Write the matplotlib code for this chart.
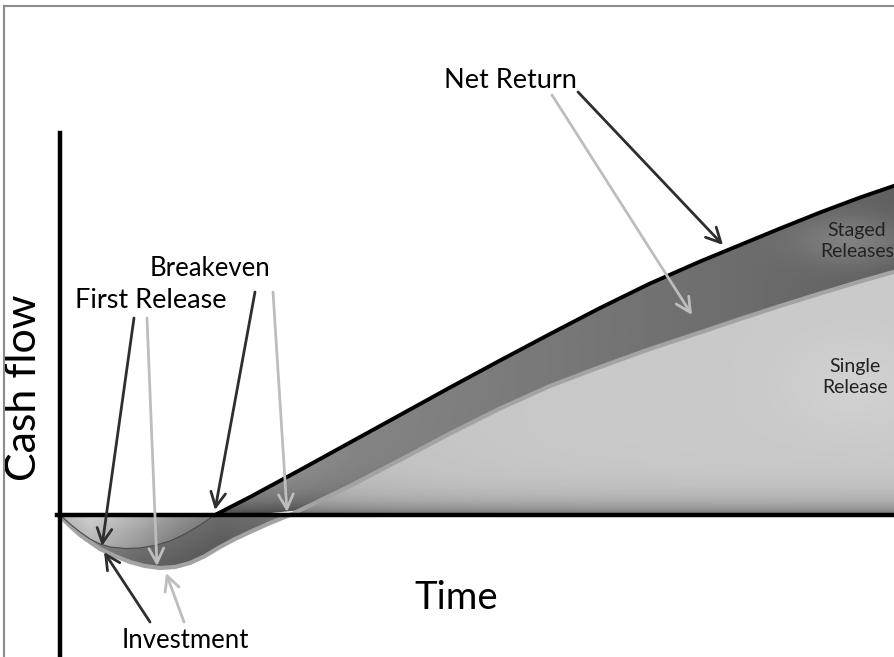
import numpy as np
import matplotlib
matplotlib.use("Agg")
import matplotlib.pyplot as plt
from matplotlib.patches import Polygon
from matplotlib.lines import Line2D

plt.rcParams['font.family'] = ['Lato', 'DejaVu Sans']

# cash flow over time (arbitrary units)
staged_t = [0, 1, 2, 3, 4, 5, 6.5, 8, 9.5, 11, 12.5, 14, 15.5, 19, 24, 29, 34, 39,
            44, 49, 54, 59, 64, 68, 72, 76, 80, 83.5]
staged_cf = [0, -0.9, -1.7, -2.4, -2.9, -3.2, -3.35, -3.3, -3.05, -2.6, -1.9, -1.0, 0,
             1.8, 4.5, 7.25, 10.0, 12.75, 15.45, 18.1, 20.7, 23.15, 25.35, 27.0,
             28.65, 30.25, 31.75, 32.95]

single_t = [0, 1, 2, 3, 4, 5.5, 7, 8.5, 10, 11.5, 13, 14.5, 16, 17.5, 19, 21, 23, 29,
            34, 39, 44, 49, 54, 59, 64, 68, 72, 76, 80, 83.5]
single_cf = [-0.1, -1.1, -2.0, -2.7, -3.4, -4.1, -4.7, -5.1, -5.3, -5.2, -4.8, -4.1,
             -3.2, -2.4, -1.7, -0.8, 0, 2.9, 5.5, 8.15, 10.65, 12.9, 14.8, 16.6,
             18.25, 19.6, 20.9, 22.15, 23.35, 24.35]

XMIN, XMAX, YMIN, YMAX = -6, 83.5, -14.2, 51.5

fig = plt.figure(figsize=(8.95, 6.57), dpi=100)
ax = fig.add_axes([0, 0, 1, 1])
ax.set_axis_off()

st = np.array(staged_t)
sc = np.array(staged_cf)
gt = np.array(single_t)
gc = np.array(single_cf)

gx = np.linspace(XMIN, XMAX, 500)
gy = np.linspace(YMIN, YMAX, 400)
X, Y = np.meshgrid(gx, gy)


def shade(xs, ys, img):
    patch = Polygon(np.column_stack([xs, ys]), closed=True, facecolor='none',
                    edgecolor='none')
    ax.add_patch(patch)
    im = ax.imshow(img, extent=(XMIN, XMAX, YMIN, YMAX), origin='lower',
                   cmap='gray', vmin=0, vmax=1, aspect='auto',
                   interpolation='bilinear', zorder=1)
    im.set_clip_path(patch)


# single release, positive part
pos = gc >= 0
sx = np.concatenate([gt[pos], [gt[-1], gt[pos][0]]])
sy = np.concatenate([gc[pos], [0, 0]])
img = 0.79 - 0.32 * np.exp(-np.clip(Y, 0, None) / 1.3)
img = img - 0.06 * np.exp(-np.clip(X - 23, 0, None) / 12)
img = img + 0.03 * np.exp(-((X - 79.5) ** 2 / 40 + (Y - 13) ** 2 / 20))
shade(sx, sy, img)

# staged band between the two curves
mask = st >= 15.5
top_x = st[mask]
top_y = sc[mask]
low = np.interp(top_x, gt, np.clip(gc, 0, None))
bx = np.concatenate([top_x, top_x[::-1]])
by = np.concatenate([top_y, low[::-1]])
img = np.interp(X, [15, 30, 50, 70, 84], [0.62, 0.52, 0.47, 0.42, 0.37])
img = img * (1 - 0.55 * np.exp(-np.clip(Y, 0, None) / 1.6))
img = img + 0.12 * np.exp(-((X - 79.5) ** 2 / 30 + (Y - 27.5) ** 2 / 6))
shade(bx, by, img)

# single release dip
dx = gt[gt <= 23]
dy = np.minimum(gc[gt <= 23], 0)
img = np.interp(X, [0, 8, 16, 23], [0.62, 0.5, 0.42, 0.45])
img = img - 0.1 * np.clip(-Y / 5, 0, 1)
shade(dx, dy, img)

# staged dip
ex = st[st <= 15.5]
ey = np.minimum(sc[st <= 15.5], 0)
img = np.interp(X, [0, 3, 8, 12, 15.5], [0.72, 0.82, 0.7, 0.58, 0.5])
img = img - 0.12 * np.clip(-Y / 3.3, 0, 1)
shade(ex, ey, img)

# curve edges
ax.plot(gt, gc, color='#a3a3a3', lw=3.0, solid_capstyle='round', zorder=3)
ax.plot(st[st >= 15.5], sc[st >= 15.5], color='black', lw=2.8, zorder=4)
ax.plot(st[st <= 15.5], sc[st <= 15.5], color='#4a4a4a', lw=0.8, zorder=3)

# axes
ax.plot([0, 0], [YMIN, 38.2], color='black', lw=3.2, zorder=5)
ax.plot([-0.3, XMAX], [0, 0], color='black', lw=3.2, zorder=5)

dark = '#2e2e2e'
light = '#bdbdbd'
arrows = [
    ((51.8, 42.3), (66.3, 27.0), dark),
    ((49.2, 42.0), (63.2, 20.0), light),
    ((19.5, 22.3), (15.5, 0.5), dark),
    ((21.3, 22.3), (22.7, 0.3), light),
    ((7.4, 19.7), (4.2, -3.1), dark),
    ((8.7, 19.7), (9.7, -5.1), light),
    ((9.0, -10.7), (4.4, -3.7), dark),
    ((12.4, -10.7), (10.6, -5.8), light),
]
for start, end, col in arrows:
    ax.annotate('', xy=end, xytext=start, zorder=6,
                arrowprops=dict(arrowstyle='->,head_length=0.75,head_width=0.38',
                                color=col, lw=2.0, mutation_scale=14,
                                shrinkA=0, shrinkB=0))

ax.text(45.0, 43.5, 'Net Return', fontsize=19.5, ha='center', va='center', zorder=7)
ax.text(15.0, 24.6, 'Breakeven', fontsize=18.5, ha='center', va='center', zorder=7)
ax.text(9.1, 21.5, 'First Release', fontsize=19.5, ha='center', va='center', zorder=7)
ax.text(12.5, -12.5, 'Investment', fontsize=18.5, ha='center', va='center', zorder=7)
ax.text(39.6, -8.3, 'Time', fontsize=27.5, ha='center', va='center', zorder=7)
ax.text(-3.6, 12.7, 'Cash flow', fontsize=31, ha='center', va='center',
        rotation=90, zorder=7)
ax.text(79.7, 27.4, 'Staged\nReleases', fontsize=14, ha='center', va='center',
        color='#222222', linespacing=1.25, zorder=7)
ax.text(79.5, 13.8, 'Single\nRelease', fontsize=14, ha='center', va='center',
        color='#222222', linespacing=1.25, zorder=7)

ax.set_xlim(XMIN, XMAX)
ax.set_ylim(YMIN, YMAX)

# outer frame
fx = 4 / 895
fy = 1 - 6 / 657
fig.add_artist(Line2D([fx, fx], [0, fy], transform=fig.transFigure,
                      color='#8c8c8c', lw=1.5))
fig.add_artist(Line2D([fx, 1], [fy, fy], transform=fig.transFigure,
                      color='#8c8c8c', lw=1.5))

fig.savefig('out.png', dpi=100)
